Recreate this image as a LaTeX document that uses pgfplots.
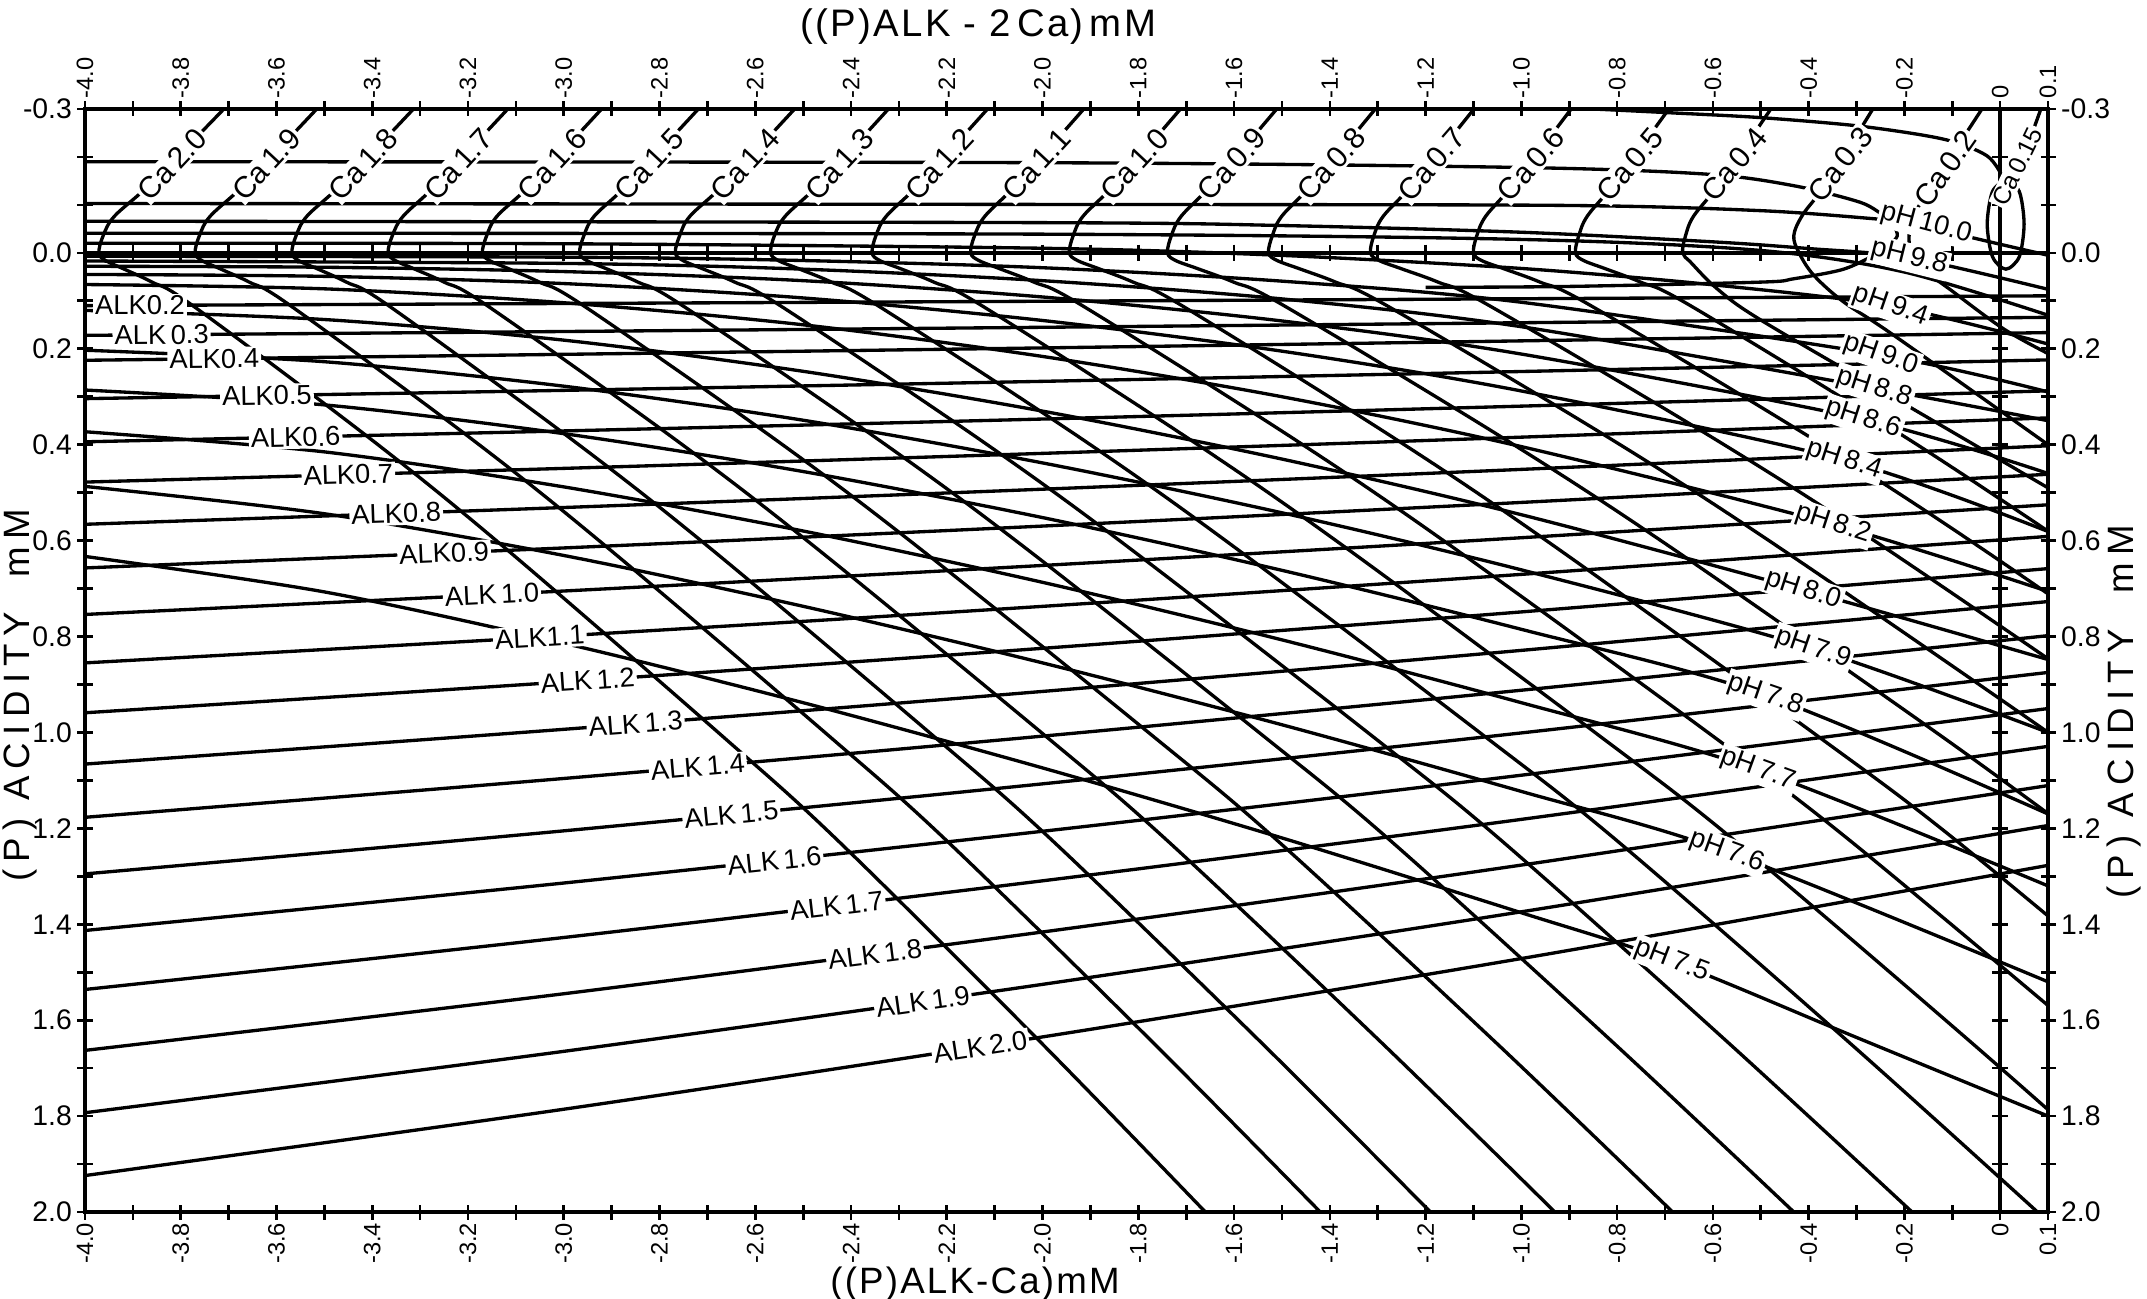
\documentclass[border=0pt]{standalone}
\usepackage{pgfplots}
\pgfplotsset{compat=1.18}
\usepackage{fontspec}
\setmainfont{Liberation Sans}
\newfontfamily\spacedfont{Liberation Sans}[LetterSpace=20]
\newfontfamily\titlefont{Liberation Sans}[LetterSpace=6]
\tikzset{lab/.style={fill=white, inner sep=0.6pt, font=\fontsize{8.2}{9}\selectfont},
         labca/.style={fill=white, inner sep=0.6pt, font=\fontsize{9}{10}\selectfont}}
\begin{document}
\begin{tikzpicture}
\useasboundingbox (-25.5pt,-26.1pt) rectangle (618.6pt,363.6pt);
\pgfplotsset{
  base/.style={
    at={(0pt,0pt)}, anchor=south west,
    scale only axis, width=588.9pt, height=330.9pt,
    xmin=-4, xmax=0.1, ymin=-0.3, ymax=2.0, y dir=reverse,
    axis line style={line width=1.2pt},
    tick align=center,
    major tick length=4.5pt, minor tick length=4.5pt,
    every tick/.style={black, line width=0.8pt},
    xtick={-4,-3.8,-3.6,-3.4,-3.2,-3,-2.8,-2.6,-2.4,-2.2,-2,-1.8,-1.6,-1.4,-1.2,-1,-0.8,-0.6,-0.4,-0.2,0,0.1},
    xticklabels={-4.0,-3.8,-3.6,-3.4,-3.2,-3.0,-2.8,-2.6,-2.4,-2.2,-2.0,-1.8,-1.6,-1.4,-1.2,-1.0,-0.8,-0.6,-0.4,-0.2,0,0.1},
    minor xtick={-3.9,-3.7,-3.5,-3.3,-3.1,-2.9,-2.7,-2.5,-2.3,-2.1,-1.9,-1.7,-1.5,-1.3,-1.1,-0.9,-0.7,-0.5,-0.3,-0.1},
    ytick={-0.3,0,0.2,0.4,0.6,0.8,1.0,1.2,1.4,1.6,1.8,2.0},
    yticklabels={-0.3,0.0,0.2,0.4,0.6,0.8,1.0,1.2,1.4,1.6,1.8,2.0},
    minor ytick={-0.2,-0.1,0.1,0.3,0.5,0.7,0.9,1.1,1.3,1.5,1.7,1.9},
    xticklabel style={font=\fontsize{7.1}{8}\selectfont, inner sep=0.8pt},
    yticklabel style={font=\fontsize{8.5}{9}\selectfont, inner sep=1.5pt},
    clip mode=individual,
  },
}
\begin{axis}[base,
  xticklabel pos=lower, yticklabel pos=left,
  xticklabel style={rotate=90, anchor=east},
  every axis plot/.append style={black, line width=1pt, line join=round},
]
% ---------------- ALK lines ----------------
\addplot[smooth] coordinates {(-4,0.110) (-3,0.1056) (-2,0.1009) (-1,0.0957) (0.1,0.0896)};
\addplot[smooth] coordinates {(-4,0.172) (-3,0.164) (-2,0.1552) (-1,0.1457) (0.1,0.1344)};
\addplot[smooth] coordinates {(-4,0.224) (-3,0.2116) (-2,0.1982) (-1,0.1835) (0.1,0.1662)};
\addplot[smooth] coordinates {(-4,0.304) (-3,0.2867) (-2,0.2679) (-1,0.2474) (0.1,0.2232)};
\addplot[smooth] coordinates {(-4,0.394) (-3,0.3713) (-2,0.3465) (-1,0.3196) (0.1,0.2877)};
\addplot[smooth] coordinates {(-4,0.478) (-3,0.4494) (-2,0.4181) (-1,0.3843) (0.1,0.3441)};
\addplot[smooth] coordinates {(-4,0.566) (-3,0.5310) (-2,0.4928) (-1,0.4515) (0.1,0.4023)};
\addplot[smooth] coordinates {(-4,0.657) (-3,0.6153) (-2,0.5697) (-1,0.5204) (0.1,0.4617)};
\addplot[smooth] coordinates {(-4,0.754) (-3,0.7051) (-2,0.6518) (-1,0.5940) (0.1,0.5253)};
\addplot[smooth] coordinates {(-4,0.855) (-3,0.7986) (-2,0.7371) (-1,0.6704) (0.1,0.5912)};
\addplot[smooth] coordinates {(-4,0.959) (-3,0.8947) (-2,0.8246) (-1,0.7487) (0.1,0.6584)};
\addplot[smooth] coordinates {(-4,1.066) (-3,0.9935) (-2,0.9145) (-1,0.8289) (0.1,0.7271)};
\addplot[smooth] coordinates {(-4,1.177) (-3,1.0960) (-2,1.0077) (-1,0.9120) (0.1,0.7982)};
\addplot[smooth] coordinates {(-4,1.295) (-3,1.2052) (-2,1.1072) (-1,1.0010) (0.1,0.8749)};
\addplot[smooth] coordinates {(-4,1.413) (-3,1.3140) (-2,1.2061) (-1,1.0892) (0.1,0.9502)};
\addplot[smooth] coordinates {(-4,1.536) (-3,1.4276) (-2,1.3094) (-1,1.1813) (0.1,1.0291)};
\addplot[smooth] coordinates {(-4,1.663) (-3,1.5449) (-2,1.4161) (-1,1.2766) (0.1,1.1108)};
\addplot[smooth] coordinates {(-4,1.793) (-3,1.6650) (-2,1.5253) (-1,1.3740) (0.1,1.1941)};
\addplot[smooth] coordinates {(-4,1.924) (-3,1.7857) (-2,1.6349) (-1,1.4715) (0.1,1.2772)};
% ---------------- pH lines ----------------
\addplot[smooth] coordinates {(-4,0.633) (-3.5,0.707) (-3,0.814) (-2.5,0.938) (-2,1.074) (-1.5,1.220) (-1,1.376) (-0.686,1.477) (-0.3,1.636) (0.1,1.80)};
\addplot[smooth] coordinates {(-4,0.487) (-3.5,0.544) (-3,0.631) (-2.5,0.737) (-2,0.855) (-1.5,0.984) (-1,1.123) (-0.571,1.249) (0.1,1.52)};
\addplot[smooth] coordinates {(-4,0.373) (-3.5,0.415) (-3,0.488) (-2.5,0.580) (-2,0.687) (-1.5,0.807) (-1,0.938) (-0.506,1.078) (0.1,1.32)};
\addplot[smooth] coordinates {(-4,0.286) (-3.5,0.317) (-3,0.377) (-2.5,0.456) (-2,0.552) (-1.5,0.662) (-1,0.785) (-0.491,0.922) (0.1,1.17)};
\addplot[smooth] coordinates {(-4,0.203) (-3.5,0.227) (-3,0.278) (-2.5,0.349) (-2,0.438) (-1.5,0.542) (-1,0.661) (-0.391,0.825) (0.1,1.0)};
\addplot[smooth] coordinates {(-4,0.120) (-3.5,0.139) (-3,0.182) (-2.5,0.247) (-2,0.330) (-1.5,0.430) (-1,0.546) (-0.411,0.703) (0.1,0.848)};
\addplot[smooth] coordinates {(-4,0.066) (-3.5,0.075) (-3,0.104) (-2.5,0.150) (-2,0.216) (-1.5,0.300) (-1,0.404) (-0.349,0.566) (0.1,0.706)};
\addplot[smooth] coordinates {(-4,0.045) (-3.5,0.049) (-3,0.064) (-2.5,0.094) (-2,0.141) (-1.5,0.205) (-1,0.288) (-0.326,0.432) (0.1,0.581)};
\addplot[smooth] coordinates {(-4,0.028) (-3.5,0.030) (-3,0.039) (-2.5,0.058) (-2,0.092) (-1.5,0.142) (-1,0.211) (-0.286,0.347) (0.1,0.46)};
\addplot[smooth] coordinates {(-4,0.017) (-3,0.022) (-2.5,0.034) (-2,0.058) (-1.5,0.096) (-1,0.154) (-0.263,0.282) (0.1,0.35)};
\addplot[smooth] coordinates {(-4,0.007) (-3,0.009) (-2.5,0.016) (-2,0.031) (-1.5,0.059) (-1,0.103) (-0.249,0.213) (0.1,0.29)};
\addplot[smooth] coordinates {(-4,-0.020) (-3,-0.019) (-2,-0.0096) (-1.5,0.0053) (-1,0.0325) (-0.6,0.0666) (-0.229,0.111) (0.1,0.19)};
\addplot[smooth] coordinates {(-4,-0.041) (-2,-0.039) (-1,-0.028) (-0.5,-0.005) (-0.2,0.04) (0.1,0.13)};
\addplot[smooth] coordinates {(-4,-0.066) (-2,-0.063) (-1.5,-0.057) (-1,-0.043) (-0.6,-0.023) (-0.4,-0.009) (-0.19,0.01) (0.1,0.076)};
\addplot[smooth] coordinates {(-4,-0.103) (-2,-0.101) (-0.918,-0.099) (-0.5,-0.088) (-0.25,-0.07) (-0.155,-0.06)};
\addplot[smooth] coordinates {(-4,-0.190) (-2,-0.188) (-1,-0.178) (-0.611,-0.164) (-0.431,-0.140) (-0.291,-0.105) (-0.233,-0.074) (-0.155,-0.06) (-0.076,-0.036) (0.1,0.005)};
\addplot[smooth] coordinates {(-0.233,-0.074) (-0.215,-0.035) (-0.256,0.0) (-0.327,0.034) (-0.431,0.054) (-0.5,0.061) (-0.9,0.070) (-1.2,0.072)};
% ---------------- Ca lines ----------------
\addplot[smooth, tension=0.55] coordinates {(-3.710,-0.3) (-3.861,-0.146) (-3.938,-0.077) (-3.962,-0.036) (-3.971,0) (-3.957,0.016) (-3.918,0.034) (-3.860,0.061) (-3.775,0.11) (-3.401,0.39) (-3.122,0.616) (-2.673,1.004) (-2.427,1.226) (-2.005,1.645) (-1.660,2.0)};
\addplot[smooth, tension=0.55] coordinates {(-3.516,-0.3) (-3.663,-0.146) (-3.738,-0.077) (-3.761,-0.036) (-3.770,0) (-3.756,0.016) (-3.716,0.034) (-3.657,0.061) (-3.571,0.11) (-3.190,0.39) (-2.907,0.616) (-2.450,1.004) (-2.200,1.226) (-1.771,1.645) (-1.420,2.0)};
\addplot[smooth, tension=0.55] coordinates {(-3.314,-0.3) (-3.461,-0.146) (-3.536,-0.077) (-3.559,-0.036) (-3.568,0) (-3.554,0.016) (-3.513,0.034) (-3.454,0.061) (-3.366,0.11) (-2.982,0.39) (-2.694,0.616) (-2.232,1.004) (-1.979,1.226) (-1.545,1.645) (-1.190,2.0)};
\addplot[smooth, tension=0.55] coordinates {(-3.117,-0.3) (-3.262,-0.146) (-3.335,-0.077) (-3.358,-0.036) (-3.367,0) (-3.352,0.016) (-3.311,0.034) (-3.250,0.061) (-3.160,0.11) (-2.766,0.39) (-2.472,0.616) (-1.998,1.004) (-1.739,1.226) (-1.294,1.645) (-0.930,2.0)};
\addplot[smooth, tension=0.55] coordinates {(-2.921,-0.3) (-3.065,-0.146) (-3.139,-0.077) (-3.161,-0.036) (-3.170,0) (-3.155,0.016) (-3.113,0.034) (-3.051,0.061) (-2.959,0.11) (-2.557,0.39) (-2.257,0.616) (-1.774,1.004) (-1.509,1.226) (-1.055,1.645) (-0.684,2.0)};
\addplot[smooth, tension=0.55] coordinates {(-2.719,-0.3) (-2.863,-0.146) (-2.936,-0.077) (-2.958,-0.036) (-2.967,0) (-2.952,0.016) (-2.909,0.034) (-2.845,0.061) (-2.752,0.11) (-2.342,0.39) (-2.035,0.616) (-1.543,1.004) (-1.273,1.226) (-0.810,1.645) (-0.431,2.0)};
\addplot[smooth, tension=0.55] coordinates {(-2.518,-0.3) (-2.662,-0.146) (-2.736,-0.077) (-2.758,-0.036) (-2.767,0) (-2.751,0.016) (-2.708,0.034) (-2.643,0.061) (-2.548,0.11) (-2.130,0.39) (-1.818,0.616) (-1.316,1.004) (-1.041,1.226) (-0.570,1.645) (-0.184,2.0)};
\addplot[smooth, tension=0.55] coordinates {(-2.322,-0.3) (-2.464,-0.146) (-2.537,-0.077) (-2.560,-0.036) (-2.568,0) (-2.552,0.016) (-2.507,0.034) (-2.441,0.061) (-2.344,0.11) (-1.915,0.39) (-1.596,0.616) (-1.082,1.004) (-0.800,1.226) (-0.317,1.645) (0.078,2.0)};
\addplot[smooth, tension=0.55] coordinates {(-2.115,-0.3) (-2.255,-0.146) (-2.326,-0.077) (-2.348,-0.036) (-2.356,0) (-2.340,0.016) (-2.294,0.034) (-2.227,0.061) (-2.127,0.11) (-1.691,0.39) (-1.365,0.616) (-0.841,1.004) (-0.554,1.226) (-0.062,1.645) (0.341,2.0)};
\addplot[smooth, tension=0.55] coordinates {(-1.914,-0.3) (-2.051,-0.146) (-2.120,-0.077) (-2.142,-0.036) (-2.150,0) (-2.133,0.016) (-2.087,0.034) (-2.018,0.061) (-1.917,0.11) (-1.472,0.39) (-1.140,0.616) (-0.605,1.004) (-0.313,1.226) (0.190,1.645)};
\addplot[smooth, tension=0.55] coordinates {(-1.712,-0.3) (-1.846,-0.146) (-1.915,-0.077) (-1.936,-0.036) (-1.944,0) (-1.927,0.016) (-1.880,0.034) (-1.811,0.061) (-1.709,0.11) (-1.260,0.39) (-0.925,0.616) (-0.386,1.004) (-0.091,1.226) (0.415,1.645)};
\addplot[smooth, tension=0.55] coordinates {(-1.511,-0.3) (-1.643,-0.146) (-1.710,-0.077) (-1.731,-0.036) (-1.739,0) (-1.722,0.016) (-1.673,0.034) (-1.601,0.061) (-1.496,0.11) (-1.032,0.39) (-0.685,0.616) (-0.128,1.004) (0.177,1.226)};
\addplot[smooth, tension=0.55] coordinates {(-1.305,-0.3) (-1.434,-0.146) (-1.500,-0.077) (-1.520,-0.036) (-1.528,0) (-1.510,0.016) (-1.461,0.034) (-1.388,0.061) (-1.281,0.11) (-0.810,0.39) (-0.459,0.616) (0.106,1.004) (0.416,1.226)};
\addplot[smooth, tension=0.55] coordinates {(-1.099,-0.3) (-1.224,-0.146) (-1.288,-0.077) (-1.308,-0.036) (-1.315,0) (-1.297,0.016) (-1.248,0.034) (-1.174,0.061) (-1.067,0.11) (-0.593,0.39) (-0.239,0.616) (0.330,1.004)};
\addplot[smooth, tension=0.55] coordinates {(-0.896,-0.3) (-1.014,-0.146) (-1.074,-0.077) (-1.093,-0.036) (-1.100,0) (-1.083,0.016) (-1.034,0.034) (-0.961,0.061) (-0.855,0.11) (-0.388,0.39) (-0.039,0.616) (0.523,1.004)};
\addplot[smooth, tension=0.55] coordinates {(-0.692,-0.3) (-0.805,-0.146) (-0.862,-0.077) (-0.880,-0.036) (-0.887,0) (-0.870,0.016) (-0.822,0.034) (-0.751,0.061) (-0.647,0.11) (-0.189,0.39) (0.153,0.616)};
\addplot[smooth, tension=0.55] coordinates {(-0.479,-0.3) (-0.585,-0.146) (-0.640,-0.077) (-0.657,-0.036) (-0.663,0) (-0.646,0.02) (-0.591,0.075) (-0.500,0.14) (-0.200,0.315) (0.1,0.49)};
\addplot[smooth, tension=0.55] coordinates {(-0.266,-0.3) (-0.362,-0.146) (-0.412,-0.08) (-0.431,-0.036) (-0.420,0.0) (-0.389,0.047) (-0.326,0.103) (-0.222,0.172) (0.1,0.40)};
\addplot[smooth, tension=0.55] coordinates {(-0.038,-0.3) (-0.110,-0.19) (-0.166,-0.105) (-0.190,-0.04) (-0.175,0.02) (-0.097,0.082) (0.008,0.159) (0.1,0.21)};
\addplot[smooth] coordinates {(0.085,-0.3) (0.055,-0.22) (0.02,-0.152)};
\addplot[smooth] coordinates {(0.012,-0.153) (0.040,-0.128) (0.050,-0.06) (0.040,0.008) (0.012,0.034) (-0.016,0.008) (-0.027,-0.06) (-0.016,-0.128) (0.012,-0.153)};
\addplot[smooth] coordinates {(-0.85,-0.3) (-0.687,-0.292) (-0.50,-0.282) (-0.291,-0.264) (-0.118,-0.237) (-0.027,-0.202) (0.008,-0.153)};
% ---------------- inner reference lines with their ticks ----------------
\addplot[line width=1.1pt] coordinates {(-4,0) (0.1,0)};
\addplot[line width=1.1pt] coordinates {(0,-0.3) (0,2.0)};
\addplot[line width=0.8pt, unbounded coords=jump] coordinates {
(-3.9,-0.017) (-3.9,0.017) (-3.9,nan) (-3.8,-0.017) (-3.8,0.017) (-3.8,nan) (-3.7,-0.017) (-3.7,0.017) (-3.7,nan)
(-3.6,-0.017) (-3.6,0.017) (-3.6,nan) (-3.5,-0.017) (-3.5,0.017) (-3.5,nan) (-3.4,-0.017) (-3.4,0.017) (-3.4,nan)
(-3.3,-0.017) (-3.3,0.017) (-3.3,nan) (-3.2,-0.017) (-3.2,0.017) (-3.2,nan) (-3.1,-0.017) (-3.1,0.017) (-3.1,nan)
(-3.0,-0.017) (-3.0,0.017) (-3.0,nan) (-2.9,-0.017) (-2.9,0.017) (-2.9,nan) (-2.8,-0.017) (-2.8,0.017) (-2.8,nan)
(-2.7,-0.017) (-2.7,0.017) (-2.7,nan) (-2.6,-0.017) (-2.6,0.017) (-2.6,nan) (-2.5,-0.017) (-2.5,0.017) (-2.5,nan)
(-2.4,-0.017) (-2.4,0.017) (-2.4,nan) (-2.3,-0.017) (-2.3,0.017) (-2.3,nan) (-2.2,-0.017) (-2.2,0.017) (-2.2,nan)
(-2.1,-0.017) (-2.1,0.017) (-2.1,nan) (-2.0,-0.017) (-2.0,0.017) (-2.0,nan) (-1.9,-0.017) (-1.9,0.017) (-1.9,nan)
(-1.8,-0.017) (-1.8,0.017) (-1.8,nan) (-1.7,-0.017) (-1.7,0.017) (-1.7,nan) (-1.6,-0.017) (-1.6,0.017) (-1.6,nan)
(-1.5,-0.017) (-1.5,0.017) (-1.5,nan) (-1.4,-0.017) (-1.4,0.017) (-1.4,nan) (-1.3,-0.017) (-1.3,0.017) (-1.3,nan)
(-1.2,-0.017) (-1.2,0.017) (-1.2,nan) (-1.1,-0.017) (-1.1,0.017) (-1.1,nan) (-1.0,-0.017) (-1.0,0.017) (-1.0,nan)
(-0.9,-0.017) (-0.9,0.017) (-0.9,nan) (-0.8,-0.017) (-0.8,0.017) (-0.8,nan) (-0.7,-0.017) (-0.7,0.017) (-0.7,nan)
(-0.6,-0.017) (-0.6,0.017) (-0.6,nan) (-0.5,-0.017) (-0.5,0.017) (-0.5,nan) (-0.4,-0.017) (-0.4,0.017) (-0.4,nan)
(-0.3,-0.017) (-0.3,0.017) (-0.3,nan) (-0.2,-0.017) (-0.2,0.017) (-0.2,nan) (-0.1,-0.017) (-0.1,0.017)};
\addplot[line width=0.8pt, unbounded coords=jump] coordinates {
(-0.017,-0.2) (0.017,-0.2) (nan,-0.2) (-0.017,-0.1) (0.017,-0.1) (nan,-0.1) (-0.017,0.1) (0.017,0.1) (nan,0.1)
(-0.017,0.2) (0.017,0.2) (nan,0.2) (-0.017,0.3) (0.017,0.3) (nan,0.3) (-0.017,0.4) (0.017,0.4) (nan,0.4)
(-0.017,0.5) (0.017,0.5) (nan,0.5) (-0.017,0.6) (0.017,0.6) (nan,0.6) (-0.017,0.7) (0.017,0.7) (nan,0.7)
(-0.017,0.8) (0.017,0.8) (nan,0.8) (-0.017,0.9) (0.017,0.9) (nan,0.9) (-0.017,1.0) (0.017,1.0) (nan,1.0)
(-0.017,1.1) (0.017,1.1) (nan,1.1) (-0.017,1.2) (0.017,1.2) (nan,1.2) (-0.017,1.3) (0.017,1.3) (nan,1.3)
(-0.017,1.4) (0.017,1.4) (nan,1.4) (-0.017,1.5) (0.017,1.5) (nan,1.5) (-0.017,1.6) (0.017,1.6) (nan,1.6)
(-0.017,1.7) (0.017,1.7) (nan,1.7) (-0.017,1.8) (0.017,1.8) (nan,1.8) (-0.017,1.9) (0.017,1.9)};
% ---------------- labels ----------------
\node[lab, rotate=0]   at (axis cs:-3.885,0.1095) {ALK0.2};
\node[lab, rotate=0.5] at (axis cs:-3.84,0.1708) {ALK\,0.3};
\node[lab, rotate=0.7] at (axis cs:-3.73,0.2208) {ALK0.4};
\node[lab, rotate=1]   at (axis cs:-3.62,0.2976) {ALK0.5};
\node[lab, rotate=1.3] at (axis cs:-3.56,0.3843) {ALK0.6};
\node[lab, rotate=1.7] at (axis cs:-3.45,0.4626) {ALK0.7};
\node[lab, rotate=2]   at (axis cs:-3.35,0.5436) {ALK0.8};
\node[lab, rotate=2.5] at (axis cs:-3.25,0.6260) {ALK0.9};
\node[lab, rotate=2.9] at (axis cs:-3.15,0.7127) {ALK\,1.0};
\node[lab, rotate=3.4] at (axis cs:-3.05,0.8015) {ALK1.1};
\node[lab, rotate=3.9] at (axis cs:-2.95,0.8914) {ALK\,1.2};
\node[lab, rotate=4.4] at (axis cs:-2.85,0.9821) {ALK\,1.3};
\node[lab, rotate=5]   at (axis cs:-2.72,1.0720) {ALK\,1.4};
\node[lab, rotate=5.6] at (axis cs:-2.65,1.1718) {ALK\,1.5};
\node[lab, rotate=6.1] at (axis cs:-2.56,1.2677) {ALK\,1.6};
\node[lab, rotate=6.8] at (axis cs:-2.43,1.3615) {ALK\,1.7};
\node[lab, rotate=7.4] at (axis cs:-2.35,1.4624) {ALK\,1.8};
\node[lab, rotate=8.1] at (axis cs:-2.25,1.5613) {ALK\,1.9};
\node[lab, rotate=8.8] at (axis cs:-2.13,1.6552) {ALK\,2.0};
\node[labca, rotate=47] at (axis cs:-3.818,-0.185) {Ca\,2.0};
\node[labca, rotate=47] at (axis cs:-3.621,-0.185) {Ca\,1.9};
\node[labca, rotate=47] at (axis cs:-3.419,-0.185) {Ca\,1.8};
\node[labca, rotate=47] at (axis cs:-3.220,-0.185) {Ca\,1.7};
\node[labca, rotate=47] at (axis cs:-3.024,-0.185) {Ca\,1.6};
\node[labca, rotate=47] at (axis cs:-2.822,-0.185) {Ca\,1.5};
\node[labca, rotate=47] at (axis cs:-2.621,-0.185) {Ca\,1.4};
\node[labca, rotate=47] at (axis cs:-2.424,-0.185) {Ca\,1.3};
\node[labca, rotate=47] at (axis cs:-2.215,-0.185) {Ca\,1.2};
\node[labca, rotate=47] at (axis cs:-2.012,-0.185) {Ca\,1.1};
\node[labca, rotate=47] at (axis cs:-1.808,-0.185) {Ca\,1.0};
\node[labca, rotate=48] at (axis cs:-1.605,-0.185) {Ca\,0.9};
\node[labca, rotate=48] at (axis cs:-1.397,-0.185) {Ca\,0.8};
\node[labca, rotate=49] at (axis cs:-1.188,-0.185) {Ca\,0.7};
\node[labca, rotate=49] at (axis cs:-0.980,-0.185) {Ca\,0.6};
\node[labca, rotate=50] at (axis cs:-0.773,-0.185) {Ca\,0.5};
\node[labca, rotate=50] at (axis cs:-0.555,-0.185) {Ca\,0.4};
\node[labca, rotate=52] at (axis cs:-0.334,-0.185) {Ca\,0.3};
\node[labca, rotate=55] at (axis cs:-0.115,-0.175) {Ca\,0.2};
\node[lab, font=\fontsize{7.4}{8}\selectfont, rotate=64] at (axis cs:0.036,-0.180) {Ca\,0.15};
\node[lab, rotate=-15] at (axis cs:-0.155,-0.060) {pH\,10.0};
\node[lab, rotate=-14] at (axis cs:-0.190,0.010) {pH\,9.8};
\node[lab, rotate=-19] at (axis cs:-0.229,0.111) {pH\,9.4};
\node[lab, rotate=-19] at (axis cs:-0.249,0.213) {pH\,9.0};
\node[lab, rotate=-18] at (axis cs:-0.263,0.282) {pH\,8.8};
\node[lab, rotate=-18] at (axis cs:-0.286,0.347) {pH\,8.6};
\node[lab, rotate=-18] at (axis cs:-0.326,0.432) {pH\,8.4};
\node[lab, rotate=-18] at (axis cs:-0.349,0.566) {pH\,8.2};
\node[lab, rotate=-18] at (axis cs:-0.411,0.703) {pH\,8.0};
\node[lab, rotate=-19] at (axis cs:-0.391,0.825) {pH\,7.9};
\node[lab, rotate=-19] at (axis cs:-0.491,0.922) {pH\,7.8};
\node[lab, rotate=-20] at (axis cs:-0.506,1.078) {pH\,7.7};
\node[lab, rotate=-20] at (axis cs:-0.571,1.249) {pH\,7.6};
\node[lab, rotate=-21] at (axis cs:-0.686,1.477) {pH\,7.5};
\end{axis}
\begin{axis}[base,
  xticklabel pos=upper, yticklabel pos=right,
  xticklabel style={rotate=90, anchor=west},
]
\end{axis}
\node[anchor=base, font=\fontsize{11}{12}\titlefont] at (267pt,-24.4pt) {((P)ALK-Ca)mM};
\node[anchor=base, font=\fontsize{11.5}{12}\titlefont] at (268pt,352.6pt) {((P)ALK - 2\,Ca)\,mM};
\node[rotate=90, font=\fontsize{11}{12}\selectfont] at (-19.4pt,155pt) {\spacedfont (P) ACIDITY \ mM};
\node[rotate=90, font=\fontsize{11}{12}\selectfont] at (611.6pt,150pt) {\spacedfont (P) ACIDITY \ mM};
\end{tikzpicture}
\end{document}
